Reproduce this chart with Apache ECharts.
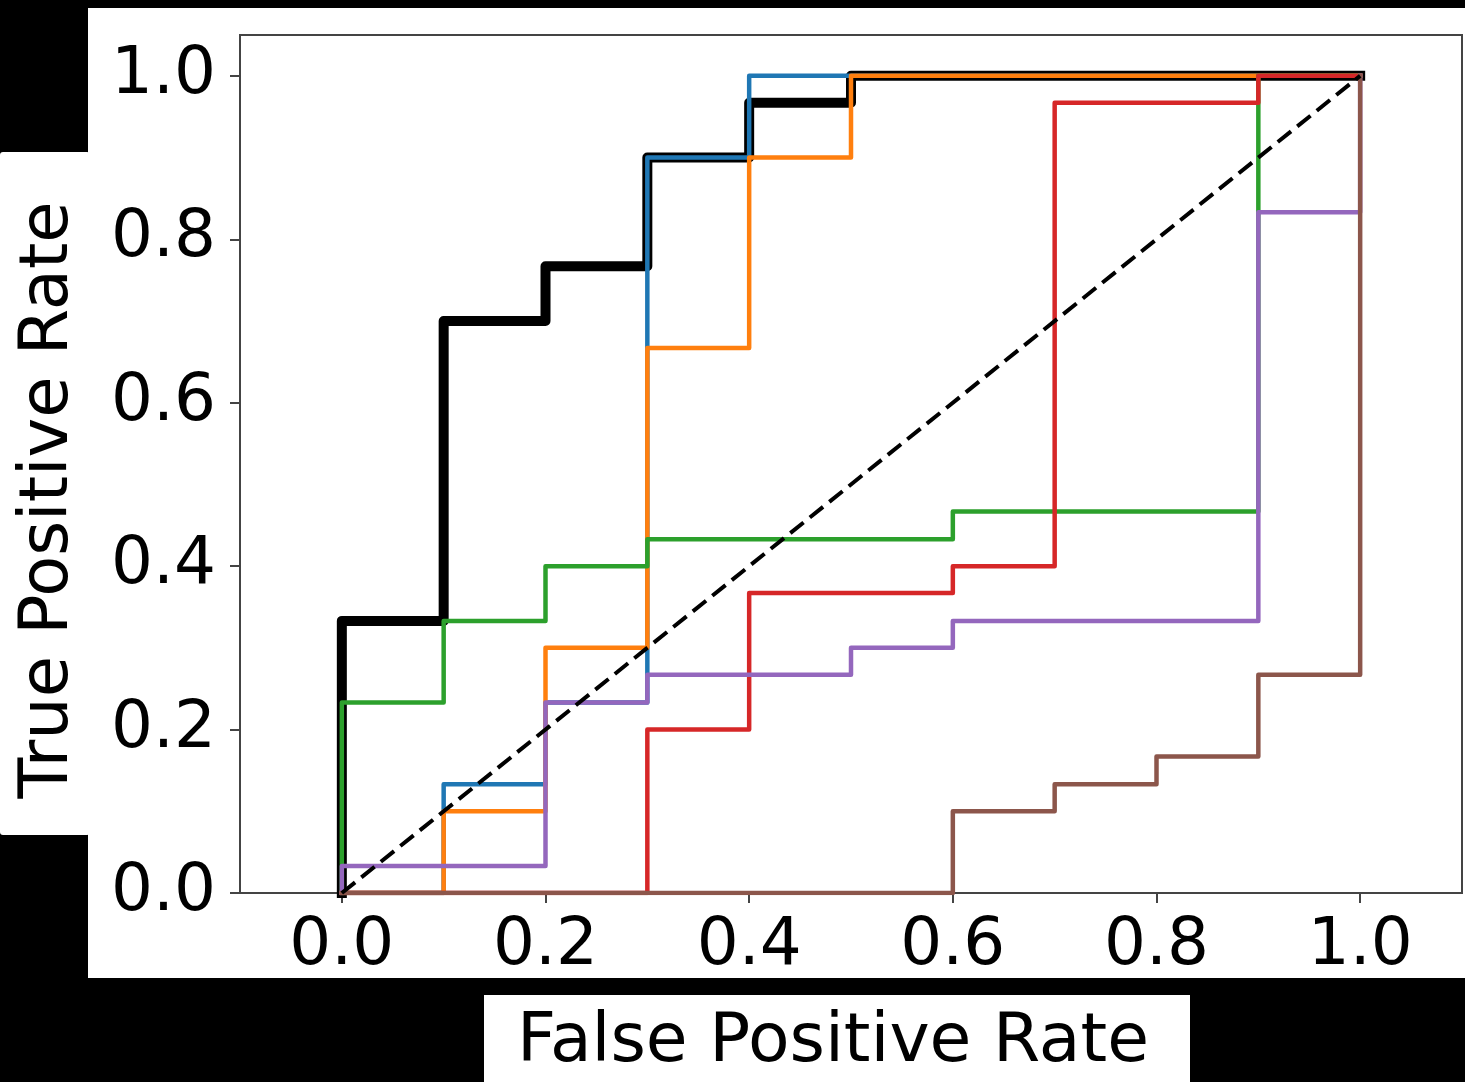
<!DOCTYPE html>
<html>
<head>
<meta charset="utf-8">
<script src="https://cdn.jsdelivr.net/npm/echarts@6/dist/echarts.min.js"></script>
<style>
    html, body { margin: 0; padding: 0; background: #000; }
    #roc { width: 1465px; height: 1082px; }
</style>
</head>
<body>
<div id="roc"></div>
<script>
    // ROC 曲线数据 (fpr / tpr 顶点)
    var mean_fpr = [0, 0, 0.1, 0.1, 0.2, 0.2, 0.3, 0.3, 0.4, 0.4, 0.5, 0.5, 1.0];
    var mean_tpr = [0, 0.333, 0.333, 0.7, 0.7, 0.767, 0.767, 0.9, 0.9, 0.967, 0.967, 1.0, 1.0];

    var blue_fpr = [0, 0.1, 0.1, 0.2, 0.2, 0.3, 0.3, 0.4, 0.4, 1.0];
    var blue_tpr = [0, 0, 0.133, 0.133, 0.233, 0.233, 0.9, 0.9, 1.0, 1.0];

    var orange_fpr = [0, 0.1, 0.1, 0.2, 0.2, 0.3, 0.3, 0.4, 0.4, 0.5, 0.5, 1.0];
    var orange_tpr = [0, 0, 0.1, 0.1, 0.3, 0.3, 0.667, 0.667, 0.9, 0.9, 1.0, 1.0];

    var green_fpr = [0, 0, 0.1, 0.1, 0.2, 0.2, 0.3, 0.3, 0.6, 0.6, 0.9, 0.9, 1.0];
    var green_tpr = [0, 0.233, 0.233, 0.333, 0.333, 0.4, 0.4, 0.433, 0.433, 0.467, 0.467, 1.0, 1.0];

    var red_fpr = [0, 0.3, 0.3, 0.4, 0.4, 0.6, 0.6, 0.7, 0.7, 0.9, 0.9, 1.0];
    var red_tpr = [0, 0, 0.2, 0.2, 0.367, 0.367, 0.4, 0.4, 0.967, 0.967, 1.0, 1.0];

    var purple_fpr = [0, 0, 0.2, 0.2, 0.3, 0.3, 0.5, 0.5, 0.6, 0.6, 0.9, 0.9, 1.0, 1.0];
    var purple_tpr = [0, 0.033, 0.033, 0.233, 0.233, 0.267, 0.267, 0.3, 0.3, 0.333, 0.333, 0.833, 0.833, 1.0];

    var brown_fpr = [0, 0.6, 0.6, 0.7, 0.7, 0.8, 0.8, 0.9, 0.9, 1.0, 1.0];
    var brown_tpr = [0, 0, 0.1, 0.1, 0.133, 0.133, 0.167, 0.167, 0.267, 0.267, 1.0];

    var chance_fpr = [0, 1];
    var chance_tpr = [0, 1];

    var tick_values = [0, 0.2, 0.4, 0.6, 0.8, 1.0];

    //组合点对
    function pairs(xs, ys) {
        var out = [];
        for (var i = 0; i < xs.length; i++) {
            out.push([xs[i], ys[i]]);
        }
        return out;
    }

    function curve(xs, ys, color, width) {
        return {
            type: 'line',
            data: pairs(xs, ys),
            symbol: 'none',
            silent: true,
            lineStyle: { color: color, width: width, join: 'round', cap: 'square' }
        };
    }

    var font = 'DejaVu Sans';

    var chart = echarts.init(document.getElementById('roc'));
    var option = {
        animation: false,
        backgroundColor: '#000',
        graphic: [
            { type: 'rect', z: -10, shape: { x: 88, y: 8, width: 1377, height: 970 }, style: { fill: '#fff' } },
            { type: 'rect', z: -10, shape: { x: 0, y: 152, width: 90, height: 683, r: 3 }, style: { fill: '#fff' } },
            { type: 'rect', z: -10, shape: { x: 484, y: 995, width: 706, height: 90 }, style: { fill: '#fff' } },
            {
                type: 'text', x: 50, y: 500, rotation: Math.PI / 2,
                style: { text: 'True Positive Rate', font: '67px "DejaVu Sans"', fill: '#000', align: 'center', verticalAlign: 'middle' }
            },
            {
                type: 'text', x: 833, y: 1043,
                style: { text: 'False Positive Rate', font: '68px "DejaVu Sans"', fill: '#000', align: 'center', verticalAlign: 'middle' }
            }
        ],
        grid: { left: 240, top: 35, right: 3, bottom: 189, show: true, borderColor: '#444', borderWidth: 2, backgroundColor: '#fff' },
        xAxis: {
            type: 'value', min: -0.1, max: 1.1,
            splitLine: { show: false },
            axisLine: { show: true, onZero: false, lineStyle: { color: '#444', width: 2 } },
            axisTick: { show: true, length: 10, customValues: tick_values, lineStyle: { color: '#444', width: 2 } },
            axisLabel: {
                customValues: tick_values, margin: 21, fontFamily: font, fontSize: 66, color: '#000',
                formatter: function (v) { return v.toFixed(1); }
            }
        },
        yAxis: {
            type: 'value', min: 0, max: 1.05,
            splitLine: { show: false },
            axisLine: { show: true, onZero: false, lineStyle: { color: '#444', width: 2 } },
            axisTick: { show: true, length: 10, customValues: tick_values, lineStyle: { color: '#444', width: 2 } },
            axisLabel: {
                customValues: tick_values, margin: 24, fontFamily: font, fontSize: 66, color: '#000',
                formatter: function (v) { return v.toFixed(1); }
            }
        },
        series: [
            curve(mean_fpr, mean_tpr, '#000000', 10),
            curve(blue_fpr, blue_tpr, '#1f77b4', 4.5),
            curve(orange_fpr, orange_tpr, '#ff7f0e', 4.5),
            curve(green_fpr, green_tpr, '#2ca02c', 4.5),
            curve(red_fpr, red_tpr, '#d62728', 4.5),
            curve(purple_fpr, purple_tpr, '#9467bd', 4.5),
            curve(brown_fpr, brown_tpr, '#8c564b', 4.5),
            {
                type: 'line',
                data: pairs(chance_fpr, chance_tpr),
                symbol: 'none',
                silent: true,
                lineStyle: { color: '#000', width: 4, type: [17, 8] }
            }
        ]
    };
    chart.setOption(option, true);
</script>
</body>
</html>
